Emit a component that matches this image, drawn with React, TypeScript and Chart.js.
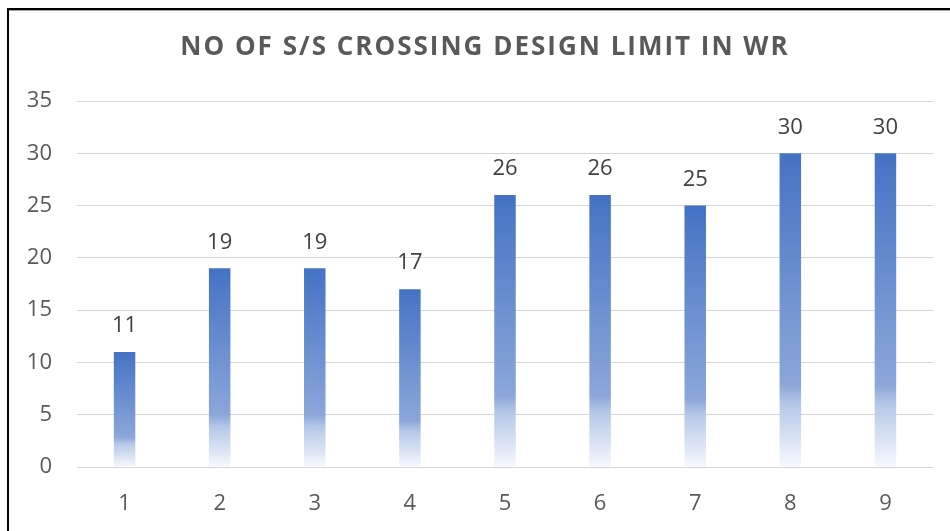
import React, { useEffect, useRef } from "react";
import { Chart, registerables } from "chart.js";

Chart.register(...registerables);

const TITLE = "NO OF S/S CROSSING DESIGN LIMIT IN WR";
const categories = ["1", "2", "3", "4", "5", "6", "7", "8", "9"];
const values = [11, 19, 19, 17, 26, 26, 25, 30, 30];
const yTicks = [0, 5, 10, 15, 20, 25, 30, 35];

const FONT = "'Open Sans', 'Liberation Sans', sans-serif";

const titlePlugin = {
  id: "customTitle",
  afterDraw(chart: any) {
    const ctx = chart.ctx as CanvasRenderingContext2D;
    ctx.save();
    ctx.font = `bold 26px ${FONT}`;
    (ctx as any).letterSpacing = "2px";
    ctx.fillStyle = "#595959";
    ctx.textAlign = "center";
    ctx.textBaseline = "middle";
    ctx.fillText(TITLE, 485, 48);
    ctx.restore();
  },
};

const labelPlugin = {
  id: "barLabels",
  afterDatasetsDraw(chart: any) {
    const ctx = chart.ctx as CanvasRenderingContext2D;
    const meta = chart.getDatasetMeta(0);
    ctx.save();
    ctx.font = `22px ${FONT}`;
    ctx.fillStyle = "#404040";
    ctx.textAlign = "center";
    ctx.textBaseline = "middle";
    meta.data.forEach((el: any, i: number) => {
      ctx.fillText(String(values[i]), el.x, el.y - 26);
    });
    ctx.restore();
  },
};

export default function App() {
  const ref = useRef<HTMLCanvasElement | null>(null);

  useEffect(() => {
    if (!ref.current) return;
    const chart = new Chart(ref.current, {
      type: "bar",
      data: {
        labels: categories,
        datasets: [
          {
            data: values,
            barPercentage: 0.226,
            categoryPercentage: 1,
            backgroundColor: (c: any) => {
              const ch = c.chart;
              const ys = ch.scales?.y;
              if (!ys || c.raw == null) return "#4472C4";
              const top = ys.getPixelForValue(c.raw);
              const bot = ys.getPixelForValue(0);
              if (!isFinite(top) || !isFinite(bot) || top === bot) return "#4472C4";
              const g = ch.ctx.createLinearGradient(0, top, 0, bot);
              g.addColorStop(0, "#4472C4");
              g.addColorStop(0.74, "#8BA7DA");
              g.addColorStop(0.8, "#B6C8E8");
              g.addColorStop(1, "#F6F8FD");
              return g;
            },
            borderWidth: 0,
          },
        ],
      },
      options: {
        animation: false,
        responsive: false,
        maintainAspectRatio: false,
        layout: { padding: { left: 0, right: 17, top: 101, bottom: 0 } },
        plugins: {
          legend: { display: false },
          title: { display: false },
          tooltip: { enabled: false },
        },
        scales: {
          x: {
            grid: { display: false, drawTicks: false },
            border: { display: false },
            ticks: {
              color: "#595959",
              font: { family: FONT, size: 22 },
              padding: 24,
            },
            afterFit: (s: any) => {
              s.height = 64;
            },
          },
          y: {
            min: 0,
            max: 35,
            afterBuildTicks: (s: any) => {
              s.ticks = yTicks.map((v) => ({ value: v }));
            },
            grid: { color: "#d6d6d6", lineWidth: 1, drawTicks: false },
            border: { display: false },
            ticks: {
              color: "#595959",
              font: { family: FONT, size: 22 },
              padding: 25,
            },
            afterFit: (s: any) => {
              s.width = 77;
            },
          },
        },
      },
      plugins: [titlePlugin, labelPlugin],
    });
    return () => chart.destroy();
  }, []);

  return (
    <div
      style={{
        position: "fixed",
        left: 0,
        top: 0,
        width: 950,
        height: 531,
        background: "#fff",
        overflow: "hidden",
      }}
    >
      <div
        style={{
          position: "absolute",
          left: 7,
          top: 8,
          width: 1100,
          height: 700,
          borderLeft: "2px solid #000",
          borderTop: "2px solid #000",
          boxShadow: "inset 0 1px 0 #a6a6a6",
        }}
      />
      <canvas
        ref={ref}
        width={950}
        height={531}
        style={{ position: "absolute", left: 0, top: 0, width: 950, height: 531 }}
      />
    </div>
  );
}
